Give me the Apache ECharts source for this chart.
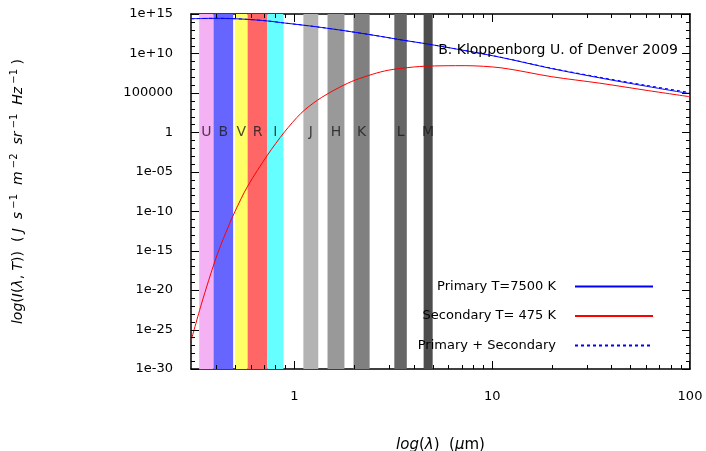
<!DOCTYPE html>
<html><head><meta charset="utf-8">
<script src="https://cdn.jsdelivr.net/npm/echarts@6/dist/echarts.min.js"></script>
<style>html,body{margin:0;padding:0;background:#fff}#c{width:706px;height:451px}</style>
</head><body><div id="c"></div>
<script>
// wavelength grid (micron)
const wavelengths = [0.3, 0.34, 0.4, 0.45, 0.5, 0.58, 0.73, 0.89, 1.08, 1.31, 1.6, 1.94, 2.36, 2.86, 3.48, 4.57, 7.3, 11.2, 20, 35, 60, 100];
// Primary T=7500 K
const primary = [2.51e14, 2.69e14, 2.82e14, 2.75e14, 2.51e14, 2.09e14, 1.32e14, 7.24e13, 4.17e13, 2.29e13, 1.15e13, 5.62e12, 2.63e12, 1.20e12, 5.13e11, 1.78e11, 2.29e10, 2.95e9, 1.2e8, 7.94e6, 7.08e5, 7.94e4];
// Secondary T=475 K
const secondary = [3.55e-27, 2.4e-22, 9.33e-17, 1.95e-13, 8.71e-11, 1.48e-7, 1.26e-3, 1.07, 263, 1.23e4, 2.45e5, 2.69e6, 1.55e7, 6.03e7, 1.32e8, 2.40e8, 2.82e8, 1.45e8, 1.12e7, 1.70e6, 2.14e5, 3.24e4];
const seriesNames = ['Primary T=7500 K', 'Secondary T= 475 K', 'Primary + Secondary'];

const bandNames = ['U', 'B', 'V', 'R', 'I', 'J', 'H', 'K', 'L', 'M'];
const bandStart = [0.33, 0.39, 0.50, 0.58, 0.73, 1.11, 1.47, 1.99, 3.2, 4.5];
const bandEnd   = [0.39, 0.49, 0.58, 0.73, 0.88, 1.32, 1.79, 2.40, 3.7, 5.0];
const bandColors = ['#f4b2f4', '#6666ff', '#ffff66', '#ff6666', '#66ffff', '#b3b3b3', '#999999', '#808080', '#666666', '#4d4d4d'];
const bandLabelLevel = 1;

const xTickValues = [1, 10, 100];
const xTickLabels = ['1', '10', '100'];
const xMinorTicks = [0.4, 0.5, 0.6, 0.7, 0.8, 0.9, 2, 3, 4, 5, 6, 7, 8, 9, 20, 30, 40, 50, 60, 70, 80, 90];
const yTickValues = [1e-30, 1e-25, 1e-20, 1e-15, 1e-10, 1e-5, 1, 1e5, 1e10, 1e15];
const yTickLabels = ['1e-30', '1e-25', '1e-20', '1e-15', '1e-10', '1e-05', '1', '100000', '1e+10', '1e+15'];
const yMinorTicks = [1e-29,1e-28,1e-27,1e-26,1e-24,1e-23,1e-22,1e-21,1e-19,1e-18,1e-17,1e-16,1e-14,1e-13,1e-12,1e-11,1e-9,1e-8,1e-7,1e-6,1e-4,1e-3,1e-2,1e-1,10,100,1e3,1e4,1e6,1e7,1e8,1e9,1e11,1e12,1e13,1e14];

const annotation = 'B. Kloppenborg U. of Denver 2009';
const FONT = 'DejaVu Sans';
const xMin = 0.3, xMax = 100, yMin = 1e-30, yMax = 1e15;
const MAJOR = 8, MINOR = 4, XLABEL_GAP = 21, YLABEL_GAP = 18;

function frameLine() { return {show: true, onZero: false, lineStyle: {color: '#000', width: 1.5}}; }
function plainAxis(pos, min, max) {
  return {type: 'log', min: min, max: max, position: pos,
    axisLine: frameLine(), axisTick: {show: false}, axisLabel: {show: false}, minorTick: {show: false}, splitLine: {show: false}};
}
const xAxes = [plainAxis('bottom', xMin, xMax), plainAxis('top', xMin, xMax)];
Object.assign(xAxes[0], {
  name: '{i|log}({i|λ})  ({i|μ}m)', nameLocation: 'middle', nameGap: 69,
  nameTextStyle: {fontSize: 15, color: '#000', fontFamily: FONT, rich: {i: {fontStyle: 'italic', fontSize: 15, fontFamily: FONT}}}
});
const yAxes = [plainAxis('left', yMin, yMax), plainAxis('right', yMin, yMax)];
Object.assign(yAxes[0], {
  name: '{i|log}({i|I}({i|λ}, {i|T}))  ( {i|J}  {i|s}{s| −1}  {i|m}{s| −2}  {i|sr}{s| −1}  {i|Hz}{s| −1} )',
  nameLocation: 'middle', nameRotate: 90, nameGap: 164,
  nameTextStyle: {fontSize: 14, color: '#000', fontFamily: FONT, lineHeight: 18,
    rich: {i: {fontStyle: 'italic', fontSize: 14, fontFamily: FONT, lineHeight: 18},
           s: {fontSize: 10, fontFamily: FONT, lineHeight: 10, verticalAlign: 'top'}}}
});

// axis decorations: [x, y, kind, labelIndex]
// kind 0 = x major tick + label, 1 = x minor tick, 2 = y major tick + label, 3 = y minor tick
const axisItems = []
  .concat(xTickValues.map((v, i) => [v, 1, 0, i]))
  .concat(xMinorTicks.map(v => [v, 1, 1, -1]))
  .concat(yTickValues.map((v, i) => [1, v, 2, i]))
  .concat(yMinorTicks.map(v => [1, v, 3, -1]));

const sumValues = wavelengths.map((w, i) => primary[i] + secondary[i]);

function renderAxisItem(params, api) {
  const cs = params.coordSys;
  const kind = api.value(2);
  const idx = api.value(3);
  const p = api.coord([api.value(0), api.value(1)]);
  const bottom = cs.y + cs.height, right = cs.x + cs.width;
  const children = [];
  if (kind === 0 || kind === 1) {
    const len = kind === 0 ? MAJOR : MINOR;
    const x = Math.min(Math.round(p[0]), Math.floor(right) - 1);
    children.push({type: 'rect', shape: {x: x, y: bottom - len, width: 1, height: len}, style: {fill: '#000'}});
    children.push({type: 'rect', shape: {x: x, y: cs.y, width: 1, height: len}, style: {fill: '#000'}});
    if (kind === 0) children.push({type: 'text', x: p[0], y: bottom + XLABEL_GAP,
      style: {text: xTickLabels[idx], fill: '#000', font: '13px "DejaVu Sans"', align: 'center', verticalAlign: 'top'}});
  } else {
    const len = kind === 2 ? MAJOR : MINOR;
    const y = Math.round(p[1]);
    children.push({type: 'rect', shape: {x: cs.x, y: y, width: len, height: 1}, style: {fill: '#000'}});
    children.push({type: 'rect', shape: {x: right - len, y: y, width: len, height: 1}, style: {fill: '#000'}});
    if (kind === 2) children.push({type: 'text', x: cs.x - YLABEL_GAP, y: p[1],
      style: {text: yTickLabels[idx], fill: '#000', font: '13px "DejaVu Sans"', align: 'right', verticalAlign: 'middle'}});
  }
  return {type: 'group', children: children};
}

const option = {
  animation: false,
  backgroundColor: '#fff',
  grid: {left: 191, right: 16, top: 14, bottom: 82, containLabel: false, outerBoundsMode: 'none'},
  xAxis: xAxes,
  yAxis: yAxes,
  legend: {
    data: seriesNames, orient: 'vertical', align: 'right', right: 47, top: 275,
    itemWidth: 78, itemHeight: 14, itemGap: 16.5,
    itemStyle: {opacity: 0},
    textStyle: {fontSize: 13, color: '#000', fontFamily: FONT, padding: [0, 14, 0, 0]},
    selectedMode: false
  },
  graphic: [{
    type: 'text', right: 28, top: 43, z: 10,
    style: {text: annotation, fill: '#000', font: '14px "DejaVu Sans"'}
  }],
  series: [
    {
      name: 'bands', type: 'line', data: [], z: 1, silent: true,
      markArea: {silent: true, data: bandNames.map((n, i) => [
        {xAxis: bandStart[i], itemStyle: {color: bandColors[i], opacity: 1}}, {xAxis: bandEnd[i]}])}
    },
    {
      name: 'bandLabels', type: 'scatter', z: 4, silent: true, symbolSize: 0,
      data: bandNames.map((n, i) => ({name: n, value: [Math.sqrt(bandStart[i] * bandEnd[i]), bandLabelLevel]})),
      label: {show: true, position: 'inside', formatter: '{b}', fontSize: 14, color: '#1a1a1a', fontFamily: FONT}
    },
    {name: seriesNames[0], type: 'line', z: 5, symbol: 'none', smooth: 0.3,
      data: wavelengths.map((w, i) => [w, primary[i]]), lineStyle: {color: '#0000ff', width: 1}, itemStyle: {color: '#0000ff'}},
    {name: seriesNames[1], type: 'line', z: 5, symbol: 'none', smooth: 0.3,
      data: wavelengths.map((w, i) => [w, secondary[i]]), lineStyle: {color: '#ff0000', width: 1}, itemStyle: {color: '#ff0000'}},
    {name: seriesNames[2], type: 'line', z: 6, symbol: 'none', smooth: 0.3,
      data: wavelengths.map((w, i) => [w, sumValues[i]]), lineStyle: {color: '#0000ff', width: 1, type: [3, 3]}, itemStyle: {color: '#0000ff'}},
    {name: 'axisDecor', type: 'custom', z: 30, clip: false, data: axisItems, renderItem: renderAxisItem}
  ]
};
const chart = echarts.init(document.getElementById('c'), null, {renderer: 'canvas'});
chart.setOption(option);
</script>
</body></html>
